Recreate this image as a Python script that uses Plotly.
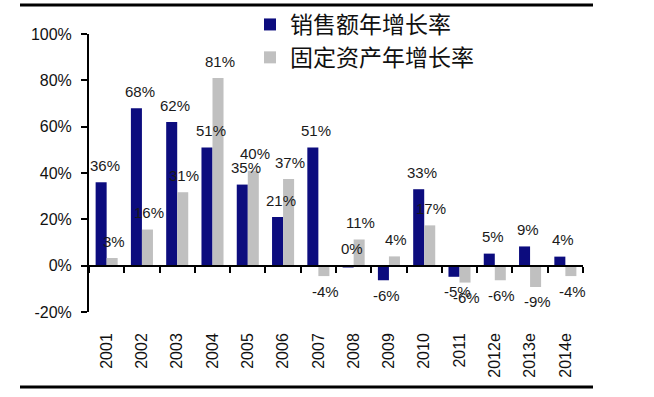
import plotly.graph_objects as go

# ---- data ----
years = ["2001", "2002", "2003", "2004", "2005", "2006", "2007",
         "2008", "2009", "2010", "2011", "2012e", "2013e", "2014e"]
sales_growth = [36, 68, 62, 51, 35, 21, 51, -0.8, -6.3, 33, -4.8, 5.2, 8.3, 3.9]
sales_labels = [36, 68, 62, 51, 35, 21, 51, 0, -6, 33, -5, 5, 9, 4]
fixed_growth = [3.3, 15.6, 31.7, 81, 41, 37.4, -4.5, 11.3, 4, 17.4, -7.3, -6.3, -9.2, -4.5]
fixed_labels = [3, 16, 31, 81, 40, 37, -4, 11, 4, 17, -6, -6, -9, -4]
y_ticks = [-20, 0, 20, 40, 60, 80, 100]
series_names = ["销售额年增长率", "固定资产年增长率"]

# ---- layout constants ----
W, H = 654, 397
ML, MR, MT, MB = 89, 71, 34, 85
PW, PH = W - ML - MR, H - MT - MB
Y_MIN, Y_MAX = -20, 100

NAVY = "#0C0C7E"
GREY = "#C0C0C0"
SANS = "Liberation Sans, Arial, sans-serif"
CJK = "Noto Sans CJK SC, sans-serif"

positions = list(range(len(years)))
boundaries = [p - 0.5 for p in positions] + [positions[-1] + 0.5]
x_range = [boundaries[0], boundaries[-1]]


def px_x(px):
    return (px - ML) / PW


def px_y(py):
    return (H - MB - py) / PH


fig = go.Figure()
fig.add_trace(go.Bar(x=positions, y=sales_growth, name=series_names[0], marker_color=NAVY,
                     marker_line_width=0, offsetgroup="a", legendgroup="a"))
fig.add_trace(go.Bar(x=positions, y=fixed_growth, name=series_names[1], marker_color=GREY,
                     marker_line_width=0, offsetgroup="b", legendgroup="b"))
# carrier for the bottom label axis
fig.add_trace(go.Scatter(x=positions, y=sales_growth, xaxis="x2", mode="none",
                         showlegend=False, hoverinfo="skip"))

annotations = []
for values, labels, dx in ((sales_growth, sales_labels, -2), (fixed_growth, fixed_labels, 7)):
    for pos, v, lab in zip(positions, values, labels):
        above = lab >= 0
        annotations.append(dict(
            x=pos, y=max(v, 0) if above else v, xref="x", yref="y",
            text=f"{lab}%", showarrow=False, xshift=dx,
            yshift=17 if above else -15,
            xanchor="center", yanchor="middle",
            font=dict(family=SANS, size=15, color="#1a1a1a"),
        ))

shapes = [
    dict(type="line", xref="paper", yref="paper", x0=px_x(20), x1=px_x(593),
         y0=px_y(5), y1=px_y(5), line=dict(color="black", width=3)),
    dict(type="line", xref="paper", yref="paper", x0=px_x(20), x1=px_x(593),
         y0=px_y(387), y1=px_y(387), line=dict(color="black", width=3)),
]

zero_pos = (0 - Y_MIN) / (Y_MAX - Y_MIN)

fig.update_layout(
    width=W, height=H,
    margin=dict(l=ML, r=MR, t=MT, b=MB, autoexpand=False),
    paper_bgcolor="white", plot_bgcolor="white",
    barmode="group", bargap=0.375, bargroupgap=0,
    showlegend=True,
    legend=dict(
        x=px_x(250), y=px_y(3), xanchor="left", yanchor="top",
        font=dict(family=CJK, size=23, color="#111111"),
        bgcolor="rgba(0,0,0,0)", tracegroupgap=12,
        traceorder="normal",
    ),
    annotations=annotations,
    shapes=shapes,
    xaxis=dict(
        range=x_range, anchor="free", position=zero_pos,
        tickmode="array", tickvals=boundaries, showticklabels=False,
        showline=True, linecolor="black", linewidth=2,
        ticks="outside", ticklen=6, tickwidth=2, tickcolor="black",
        showgrid=False, zeroline=False, automargin=False,
    ),
    xaxis2=dict(
        range=x_range, overlaying="x", anchor="y", side="bottom",
        tickmode="array", tickvals=positions, ticktext=years,
        showline=False, ticks="", tickangle=-90, ticklabelstandoff=17,
        tickfont=dict(family=SANS, size=16, color="#111111"),
        showgrid=False, zeroline=False, automargin=False,
    ),
    yaxis=dict(
        range=[Y_MIN, Y_MAX], tickmode="array", tickvals=y_ticks,
        ticktext=[f"{t}%" for t in y_ticks],
        showline=True, linecolor="black", linewidth=2,
        ticks="outside", ticklen=6, tickwidth=2, tickcolor="black",
        ticklabelstandoff=6,
        tickfont=dict(family=SANS, size=16, color="#111111"),
        showgrid=False, zeroline=False, automargin=False,
    ),
)

fig.write_html("out.html", config={"displayModeBar": False},
               post_script="document.body.style.margin='0';")
